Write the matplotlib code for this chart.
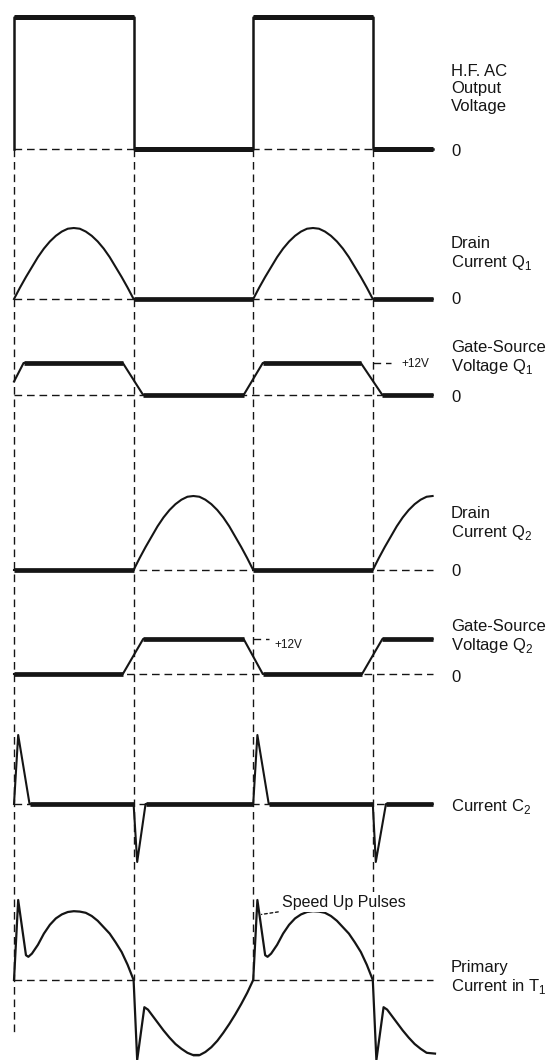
import numpy as np
import matplotlib.pyplot as plt

plt.rcParams['font.family'] = ['Liberation Sans', 'DejaVu Sans']
plt.rcParams['mathtext.fontset'] = 'custom'
plt.rcParams['mathtext.rm'] = 'Liberation Sans'

# time in half-periods of the H.F. output
SQUARE_T = [0, 0, 1, 1, 2, 2, 3, 3, 3.5]
SQUARE_V = [0, 1, 1, 0, 0, 1, 1, 0, 0]

# drain current hump over one half-period
HUMP_T = [0, 0.05, 0.1, 0.15, 0.2, 0.25, 0.3, 0.35, 0.4, 0.45, 0.5,
          0.55, 0.6, 0.65, 0.7, 0.75, 0.8, 0.85, 0.9, 0.95, 1.0]
HUMP = [0, 0.16, 0.31, 0.45, 0.59, 0.71, 0.81, 0.89, 0.95, 0.99, 1.0,
        0.99, 0.95, 0.89, 0.81, 0.71, 0.59, 0.45, 0.31, 0.16, 0]

GATE1_T = [0, 0.08, 0.91, 1.08, 1.92, 2.08, 2.9, 3.08, 3.5]
GATE1_V = [0.42, 1, 1, 0, 0, 1, 1, 0, 0]

GATE2_T = [0, 0.91, 1.08, 1.92, 2.08, 2.91, 3.08, 3.5]
GATE2_V = [0, 0, 1, 1, 0, 0, 1, 1]

C2_T = [0, 0.035, 0.13, 1.0, 1.03, 1.1, 2.0, 2.035, 2.13, 3.0, 3.025, 3.11, 3.5]
C2_V = [0, 1, 0, 0, -0.84, 0, 0, 1, 0, 0, -0.84, 0, 0]

# primary current over one full period (offsets from the rising edge)
PRI_POS_T = [0, 0.035, 0.1, 0.12, 0.15, 0.2, 0.25, 0.3, 0.35, 0.4, 0.45,
             0.5, 0.55, 0.6, 0.65, 0.7, 0.75, 0.8, 0.85, 0.9, 0.95]
PRI_POS_V = [0, 1.0, 0.31, 0.29, 0.33, 0.44, 0.58, 0.69, 0.77, 0.82, 0.85,
             0.86, 0.855, 0.84, 0.8, 0.74, 0.66, 0.58, 0.47, 0.35, 0.19]
PRI_NEG_T = [1.0, 1.03, 1.09, 1.12, 1.16, 1.2, 1.25, 1.3, 1.35, 1.4, 1.45,
             1.5, 1.55, 1.6, 1.65, 1.7, 1.75, 1.8, 1.85, 1.9, 1.95]
PRI_NEG_V = [0, -1.0, -0.34, -0.37, -0.45, -0.53, -0.63, -0.72, -0.8, -0.86,
             -0.91, -0.94, -0.94, -0.9, -0.84, -0.76, -0.66, -0.55, -0.43, -0.3, -0.16]

PRI_T = PRI_POS_T + PRI_NEG_T + [2 + t for t in PRI_POS_T] + [2 + t for t in PRI_NEG_T[:11]] + [3.52]
PRI_V = PRI_POS_V + PRI_NEG_V + PRI_POS_V + PRI_NEG_V[:11] + [-0.92]

# drain currents built from the hump
D1_T = HUMP_T + [2.0] + [2 + t for t in HUMP_T] + [3.5]
D1_V = HUMP + [0] + HUMP + [0]
D2_T = [0] + [1 + t for t in HUMP_T] + [3 + t for t in HUMP_T[:11]]
D2_V = [0] + HUMP + HUMP[:11]

LABELS = ["H.F. AC\nOutput\nVoltage",
          "Drain\nCurrent Q$_\\mathrm{1}$",
          "Gate-Source\nVoltage Q$_\\mathrm{1}$",
          "Drain\nCurrent Q$_\\mathrm{2}$",
          "Gate-Source\nVoltage Q$_\\mathrm{2}$",
          "Current C$_\\mathrm{2}$",
          "Primary\nCurrent in T$_\\mathrm{1}$"]

# layout: zero line (px from top), amplitude (px), label centre, "0" label
BASE = [149, 299, 395, 570, 674, 804, 980]
AMP = [132, 71, 32, 74, 35, 69, 80]
LABEL_Y = [89, 254, 358, 524, 637, 806, 978]
ZERO_Y = [151, 300, 397, 572, 677, None, None]

K = '#151515'
X0, HALF = 14, 119.6

fig = plt.figure(figsize=(5.46, 10.6), dpi=100)
ax = fig.add_axes([0, 0, 1, 1])
ax.set_xlim(-X0 / HALF, (546 - X0) / HALF)
ax.set_ylim(1060, 0)
ax.axis('off')

dash = (0, (5.5, 3.5))


def trace(t, v, i, lw_flat=3.4, lw=1.5):
    t = np.asarray(t, float)
    y = BASE[i] - AMP[i] * np.asarray(v, float)
    ax.plot(t, y, color=K, lw=lw, solid_joinstyle='round', zorder=3)
    for j in range(len(t) - 1):
        if v[j] == v[j + 1] and t[j] != t[j + 1]:
            ax.plot(t[j:j + 2], y[j:j + 2], color=K, lw=lw_flat,
                    solid_capstyle='butt', zorder=3)


# zero reference lines
for i in range(7):
    ax.plot([0, 3.5], [BASE[i], BASE[i]], color=K, lw=1.0, ls=dash, zorder=2)

# vertical timing lines
for tv, bottom in zip([0, 1, 2, 3], [1033, 980, 980, 980]):
    ax.plot([tv, tv], [BASE[0], bottom], color=K, lw=1.0, ls=dash, zorder=2)

trace(SQUARE_T, SQUARE_V, 0, lw_flat=3.6, lw=1.8)
trace(D1_T, D1_V, 1)
trace(GATE1_T, GATE1_V, 2)
trace(D2_T, D2_V, 3)
trace(GATE2_T, GATE2_V, 4)
trace(C2_T, C2_V, 5)
trace(PRI_T, PRI_V, 6, lw_flat=1.6, lw=1.6)

# +12V markers
y12a = BASE[2] - AMP[2]
ax.plot([3.0, 3.15], [y12a, y12a], color=K, lw=1.0, ls=dash, zorder=2)
ax.text((401 - X0) / HALF, y12a + 1, "+12V", fontsize=8.5, va='center', color=K)
y12b = BASE[4] - AMP[4]
ax.plot([2.0, 2.13], [y12b, y12b], color=K, lw=1.0, ls=dash, zorder=2)
ax.text((274 - X0) / HALF, y12b + 6, "+12V", fontsize=8.5, va='center', color=K)

lx = (451 - X0) / HALF
for lab, ly in zip(LABELS, LABEL_Y):
    ax.text(lx, ly, lab, fontsize=12, va='center', ha='left', color=K)
for zy in ZERO_Y:
    if zy is not None:
        ax.text(lx, zy, "0", fontsize=12, va='center', ha='left', color=K)

ax.annotate("Speed Up Pulses", xy=(2.07, BASE[6] - AMP[6] * 0.82),
            xytext=((282 - X0) / HALF, 902), fontsize=11.5, va='center',
            ha='left', color=K, zorder=5,
            bbox=dict(boxstyle='square,pad=0.15', fc='white', ec='none'),
            arrowprops=dict(arrowstyle='-', color=K, lw=1.0, ls=(0, (2, 2)),
                            shrinkA=1, shrinkB=0))

fig.savefig('out.png', dpi=100, facecolor='white')
